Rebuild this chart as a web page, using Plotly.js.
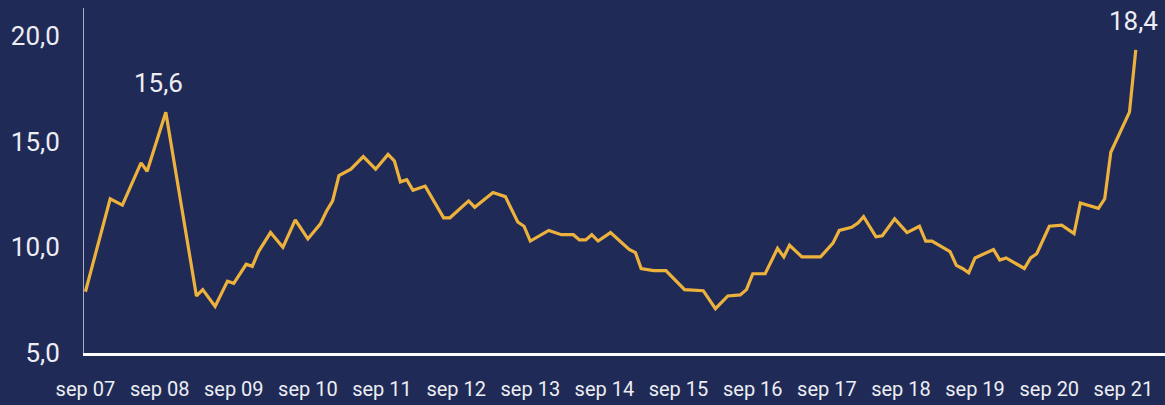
<!DOCTYPE html>
<html>
<head>
<meta charset="utf-8">
<script src="https://cdn.plot.ly/plotly-3.0.1.min.js"></script>
<style>
  html, body { margin: 0; padding: 0; background: #202a56; }
  #chart { width: 1165px; height: 405px; }
</style>
</head>
<body>
<div id="chart"></div>
<script>
// Monthly observations (only months where the line changes direction are listed)
const dates = [
  "2007-09-01","2007-10-01","2007-11-01","2007-12-01","2008-01-01","2008-03-01","2008-06-01","2008-07-01","2008-10-01",
  "2009-03-01","2009-04-01","2009-06-01","2009-08-01","2009-09-01","2009-11-01","2009-12-01",
  "2010-01-01","2010-03-01","2010-05-01","2010-07-01","2010-09-01","2010-11-01","2010-12-01",
  "2011-01-01","2011-02-01","2011-04-01","2011-06-01","2011-08-01","2011-10-01","2011-11-01","2011-12-01",
  "2012-01-01","2012-02-01","2012-04-01","2012-07-01","2012-08-01","2012-11-01","2012-12-01",
  "2013-03-01","2013-05-01","2013-07-01","2013-08-01","2013-09-01","2013-12-01",
  "2014-02-01","2014-04-01","2014-05-01","2014-06-01","2014-07-01","2014-08-01","2014-10-01",
  "2015-01-01","2015-02-01","2015-03-01","2015-05-01","2015-07-01","2015-10-01",
  "2016-01-01","2016-03-01","2016-05-01","2016-07-01","2016-08-01","2016-09-01","2016-11-01",
  "2017-01-01","2017-02-01","2017-03-01","2017-05-01","2017-08-01","2017-10-01","2017-11-01",
  "2018-01-01","2018-02-01","2018-03-01","2018-05-01","2018-06-01","2018-08-01","2018-10-01","2018-12-01",
  "2019-01-01","2019-02-01","2019-05-01","2019-06-01","2019-07-01","2019-08-01","2019-09-01","2019-12-01",
  "2020-01-01","2020-02-01","2020-05-01","2020-06-01","2020-07-01","2020-09-01","2020-11-01",
  "2021-01-01","2021-02-01","2021-05-01","2021-06-01","2021-07-01","2021-10-01","2021-11-01"
];
const values = [
  7.9,9.0,10.0,11.2,12.3,12.0,14.0,13.6,16.4,
  7.7,8.0,7.2,8.4,8.3,9.2,9.1,
  9.8,10.7,10.0,11.3,10.4,11.1,11.7,
  12.2,13.4,13.7,14.3,13.7,14.4,14.1,13.1,
  13.2,12.7,12.9,11.4,11.4,12.2,11.9,
  12.6,12.4,11.2,11.0,10.3,10.8,
  10.6,10.6,10.35,10.35,10.6,10.3,10.7,
  9.9,9.75,9.0,8.9,8.9,8.0,
  7.95,7.1,7.7,7.75,8.0,8.75,8.75,
  9.95,9.55,10.1,9.55,9.55,10.2,10.8,
  10.95,11.15,11.45,10.5,10.55,11.35,10.7,11.0,
  10.3,10.3,9.8,9.15,9.0,8.8,9.5,9.9,
  9.4,9.5,9.0,9.5,9.7,11.0,11.05,
  10.65,12.1,11.85,12.3,14.5,16.4,19.35
];
const tickDates = ["2007-09-01","2008-09-01","2009-09-01","2010-09-01","2011-09-01","2012-09-01","2013-09-01",
  "2014-09-01","2015-09-01","2016-09-01","2017-09-01","2018-09-01","2019-09-01","2020-09-01","2021-09-01"];
const tickLabels = ["sep 07","sep 08","sep 09","sep 10","sep 11","sep 12","sep 13",
  "sep 14","sep 15","sep 16","sep 17","sep 18","sep 19","sep 20","sep 21"];
const yTicks = [5, 10, 15, 20];
const labelTexts = ["15,6", "18,4"];
const labelIdx = [8, values.length - 1];

const navy = "#202a56";
const gold = "#edb23c";
const txt = "#eceef4";

const trace = {
  x: dates, y: values, type: "scatter", mode: "lines",
  line: { color: gold, width: 3.2 },
  hoverinfo: "skip"
};

const layout = {
  width: 1165, height: 405,
  paper_bgcolor: navy, plot_bgcolor: navy,
  separators: ",.",
  margin: { l: 84, r: 0, t: 8, b: 52 },
  showlegend: false,
  font: { family: "Roboto, 'Noto Sans', sans-serif", color: txt },
  xaxis: {
    type: "date",
    range: ["2007-08-25", "2022-03-25"],
    tickvals: tickDates, ticktext: tickLabels,
    tickfont: { size: 20, color: txt },
    showgrid: false, zeroline: false,
    showline: true, linecolor: "#ffffff", linewidth: 3,
    ticks: "", ticklabelstandoff: 16
  },
  yaxis: {
    range: [5, 21.33],
    tickvals: yTicks, tickformat: ".1f",
    tickfont: { size: 26, color: txt },
    showgrid: false, zeroline: false,
    showline: true, linecolor: "#a9aec4", linewidth: 1,
    ticks: "", ticklabelstandoff: 18
  },
  annotations: labelIdx.map((idx, i) => ({
    x: dates[idx], y: values[idx], xref: "x", yref: "y",
    text: labelTexts[i], showarrow: false,
    xanchor: "center", yanchor: "middle",
    xshift: i === 0 ? -7 : -2, yshift: 29,
    font: { size: 26, color: txt }
  }))
};

Plotly.newPlot("chart", [trace], layout, { displayModeBar: false, staticPlot: true });
</script>
</body>
</html>
